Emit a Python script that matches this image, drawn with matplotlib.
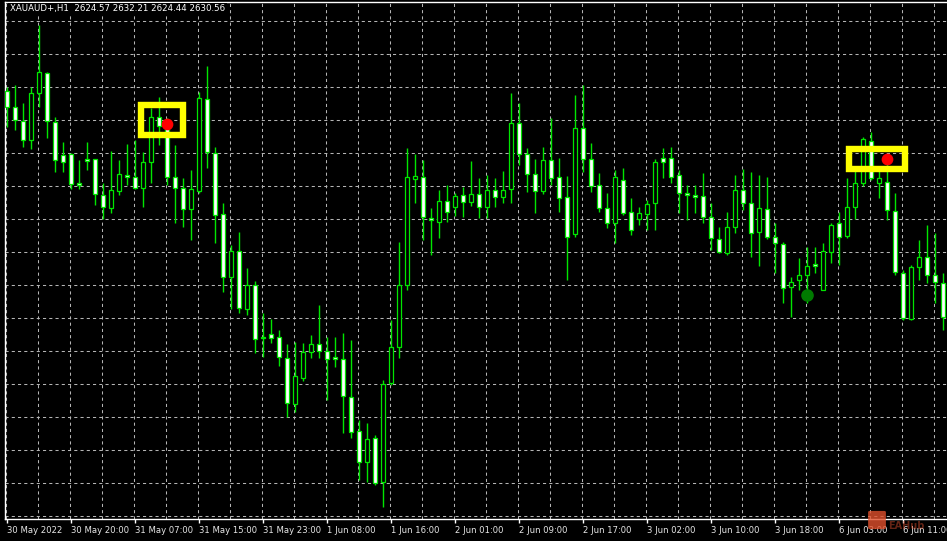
import matplotlib
matplotlib.use("Agg")
import matplotlib.pyplot as plt
from matplotlib.patches import Rectangle, FancyBboxPatch
import numpy as np

# XAUAUD+ H1, prices (bar index 0 = 30 May 2022)
symbol_text = "XAUAUD+,H1  2624.57 2632.21 2624.44 2630.56"

tick_labels = ["30 May 2022", "30 May 20:00", "31 May 07:00", "31 May 15:00",
               "31 May 23:00", "1 Jun 08:00", "1 Jun 16:00", "2 Jun 01:00",
               "2 Jun 09:00", "2 Jun 17:00", "3 Jun 02:00", "3 Jun 10:00",
               "3 Jun 18:00", "6 Jun 03:00", "6 Jun 11:00"]
tick_bars = list(range(0, 113, 8))

opens = [2686.0, 2682.8, 2680.0, 2676.2, 2685.6, 2689.6, 2679.8, 2673.2, 2673.4, 2667.6,
         2672.4, 2672.4, 2665.2, 2662.6, 2666.0, 2669.2, 2668.8, 2666.6, 2671.8, 2680.8,
         2679.4, 2668.8, 2666.6, 2662.4, 2666.0, 2684.4, 2673.6, 2661.4, 2648.8, 2654.0,
         2642.4, 2647.2, 2636.8, 2637.4, 2636.8, 2632.6, 2623.4, 2628.6, 2633.8, 2635.4,
         2634.0, 2632.8, 2632.4, 2624.8, 2618.0, 2611.8, 2616.6, 2607.8, 2627.6, 2634.8,
         2647.2, 2668.4, 2668.8, 2660.6, 2659.8, 2664.0, 2662.8, 2665.2, 2663.8, 2665.4,
         2662.8, 2666.2, 2664.8, 2666.4, 2679.6, 2673.4, 2669.4, 2666.0, 2672.2, 2668.8,
         2664.8, 2657.4, 2678.6, 2672.4, 2667.2, 2662.6, 2659.6, 2668.2, 2661.8, 2660.4,
         2661.4, 2663.6, 2672.6, 2672.6, 2669.2, 2665.6, 2665.2, 2665.0, 2660.8, 2656.4,
         2653.6, 2658.8, 2666.2, 2663.6, 2657.8, 2662.4, 2656.8, 2655.4, 2646.8, 2648.2,
         2649.2, 2651.4, 2646.2, 2653.8, 2659.6, 2657.0, 2662.8, 2667.6, 2676.0, 2667.6,
         2667.8, 2662.0, 2649.6, 2640.4, 2650.8, 2652.8, 2649.2, 2647.6]

highs = [2686.8, 2687.2, 2683.6, 2686.8, 2699.2, 2689.8, 2680.8, 2675.8, 2673.6, 2672.2,
         2675.8, 2672.4, 2667.6, 2674.0, 2672.2, 2675.4, 2676.2, 2673.8, 2682.6, 2684.8,
         2680.6, 2675.2, 2668.6, 2670.2, 2685.8, 2691.0, 2674.8, 2663.6, 2655.2, 2657.8,
         2650.6, 2648.0, 2641.6, 2640.4, 2638.2, 2635.4, 2635.8, 2635.6, 2637.2, 2643.2,
         2636.8, 2636.8, 2637.6, 2636.2, 2620.2, 2619.6, 2617.2, 2628.2, 2640.2, 2655.8,
         2674.6, 2673.4, 2672.2, 2662.6, 2666.2, 2667.2, 2665.6, 2666.8, 2672.0, 2668.6,
         2669.2, 2668.6, 2670.0, 2685.6, 2683.6, 2674.6, 2672.4, 2674.8, 2680.6, 2672.6,
         2669.0, 2685.2, 2687.2, 2675.6, 2669.6, 2665.6, 2670.2, 2670.6, 2664.6, 2662.8,
         2664.2, 2672.4, 2674.6, 2674.8, 2670.2, 2667.2, 2667.2, 2669.6, 2663.6, 2658.8,
         2661.8, 2669.2, 2670.4, 2669.8, 2669.2, 2668.8, 2659.6, 2655.8, 2648.8, 2652.6,
         2654.8, 2654.8, 2655.6, 2659.6, 2661.8, 2668.6, 2670.8, 2676.8, 2677.8, 2670.2,
         2672.2, 2665.6, 2650.2, 2651.2, 2656.2, 2659.2, 2657.6, 2649.6]

lows = [2678.8, 2678.2, 2674.8, 2674.4, 2682.8, 2676.6, 2669.8, 2669.8, 2666.4, 2666.4,
        2670.2, 2663.2, 2660.4, 2661.6, 2665.2, 2667.2, 2666.4, 2662.8, 2667.6, 2675.2,
        2667.2, 2659.6, 2658.8, 2656.2, 2665.6, 2670.6, 2655.6, 2645.8, 2642.4, 2641.6,
        2641.2, 2633.6, 2632.8, 2635.6, 2631.0, 2620.8, 2621.8, 2628.0, 2632.6, 2632.6,
        2624.2, 2630.8, 2617.6, 2616.6, 2608.2, 2607.8, 2607.2, 2602.8, 2627.2, 2632.6,
        2646.2, 2663.6, 2656.2, 2653.2, 2656.6, 2659.8, 2661.0, 2660.8, 2663.0, 2660.6,
        2660.6, 2662.8, 2663.6, 2663.6, 2671.2, 2665.8, 2661.6, 2665.4, 2667.2, 2661.8,
        2648.2, 2656.8, 2669.8, 2665.8, 2661.8, 2658.6, 2655.6, 2661.2, 2657.2, 2659.2,
        2658.2, 2658.2, 2668.6, 2667.6, 2661.6, 2660.2, 2661.6, 2659.6, 2654.2, 2653.6,
        2653.2, 2657.6, 2662.2, 2652.8, 2651.0, 2656.4, 2649.6, 2643.6, 2640.8, 2646.2,
        2643.6, 2649.6, 2646.2, 2651.6, 2651.2, 2656.6, 2660.4, 2667.0, 2668.2, 2664.6,
        2660.2, 2649.2, 2640.2, 2640.2, 2648.2, 2647.6, 2643.6, 2638.2]

closes = [2682.8, 2680.2, 2676.2, 2685.6, 2689.8, 2680.0, 2672.2, 2671.8, 2667.4, 2667.2,
          2672.0, 2665.4, 2662.8, 2666.2, 2669.4, 2668.8, 2666.6, 2671.8, 2680.8, 2679.0,
          2668.8, 2666.6, 2662.4, 2666.4, 2684.6, 2673.8, 2661.2, 2648.8, 2654.0, 2642.6,
          2647.2, 2636.4, 2636.6, 2636.6, 2632.8, 2623.6, 2629.0, 2633.8, 2635.4, 2634.0,
          2632.4, 2632.4, 2625.0, 2617.8, 2611.8, 2616.4, 2607.6, 2627.4, 2634.8, 2647.2,
          2668.8, 2669.0, 2660.8, 2660.2, 2664.0, 2661.8, 2665.0, 2663.8, 2665.4, 2662.8,
          2666.2, 2664.8, 2666.2, 2679.6, 2673.4, 2669.4, 2666.0, 2672.2, 2668.6, 2664.6,
          2656.8, 2678.6, 2672.4, 2667.0, 2662.6, 2659.6, 2668.8, 2661.6, 2658.2, 2661.6,
          2663.4, 2671.8, 2671.8, 2668.8, 2665.6, 2665.2, 2664.8, 2660.8, 2656.6, 2653.8,
          2658.8, 2666.2, 2663.6, 2657.6, 2662.6, 2656.8, 2655.6, 2646.6, 2647.8, 2649.2,
          2651.0, 2651.0, 2654.0, 2659.2, 2656.8, 2662.8, 2667.6, 2676.4, 2668.6, 2668.6,
          2662.2, 2649.8, 2640.6, 2650.8, 2652.8, 2649.2, 2647.8, 2640.8]

# signal dots
red_bars = [20, 110]
red_prices = [2679.4, 2672.4]
green_bars = [100]
green_prices = [2645.2]

# yellow highlight boxes: (first bar, last bar), (low price, high price)
box_bars = [(16.75, 22.0), (105.3, 112.2)]
box_prices = [(2677.2, 2683.2), (2670.5, 2674.5)]

W, H = 947, 541
fig = plt.figure(figsize=(W / 100, H / 100), dpi=100, facecolor="black")
ax = fig.add_axes([5 / W, 22 / H, 942 / W, 517 / H], facecolor="black")

x = np.arange(len(opens))
o = np.array(opens)
c = np.array(closes)
lime = "#00e600"

# grid
for g in np.arange(-0.125, 118, 4):
    ax.axvline(g, color="#b4b4b4", lw=0.75, ls=(0, (3, 3)), zorder=0)
for g in np.arange(2700, 2600, -6.6):
    ax.axhline(g, color="#b4b4b4", lw=0.75, ls=(0, (3, 3)), zorder=0)

# candles: wick first, body on top (white = bear, black = bull)
ax.vlines(x, lows, highs, color=lime, lw=1.0, zorder=2)
bottoms = np.minimum(o, c)
heights = np.maximum(np.abs(c - o), 0.15)
fills = np.where(c > o, "black", "white")
ax.bar(x, heights, bottom=bottoms, width=0.58, color=fills,
       edgecolor=lime, linewidth=0.9, zorder=3)

# highlight boxes
for (b0, b1), (p0, p1) in zip(box_bars, box_prices):
    ax.add_patch(Rectangle((b0, p0), b1 - b0, p1 - p0, fill=False,
                           edgecolor="#ffff00", lw=4.6, zorder=4))

ax.scatter(red_bars, red_prices, s=55, color="#ff0000", zorder=5)
ax.scatter(green_bars, green_prices, s=65, color="#007a00", zorder=5)

ax.set_xlim(-0.25, 117.5)
ax.set_ylim(2600.4, 2703.8)

for side in ["left", "top", "bottom"]:
    ax.spines[side].set_color("white")
    ax.spines[side].set_linewidth(1.0)
ax.spines["right"].set_visible(False)

ax.set_yticks([])
ax.set_xticks(tick_bars)
ax.set_xticklabels(tick_labels, ha="left", fontsize=6.1, color="#e6e6e6")
ax.tick_params(axis="x", colors="white", length=3, width=1, pad=2,
               labelcolor="#e6e6e6")

fig.text(10 / W, 1 - 9 / H, symbol_text, color="white", fontsize=6.2,
         va="center", ha="left",
         bbox=dict(facecolor="black", edgecolor="none", pad=1.2))

# watermark logo in the bottom right corner
fig.patches.append(FancyBboxPatch((870 / W, 13 / H), 14 / W, 16 / H,
                                  boxstyle="round,pad=0.002", transform=fig.transFigure,
                                  facecolor="#e0502c", edgecolor="none", alpha=0.8))
fig.text(888 / W, 1 - 526 / H, "EAHub", color="#e05030", alpha=0.45,
         fontsize=7, fontweight="bold", va="center", ha="left")

fig.savefig("out.png", dpi=100, facecolor="black")
